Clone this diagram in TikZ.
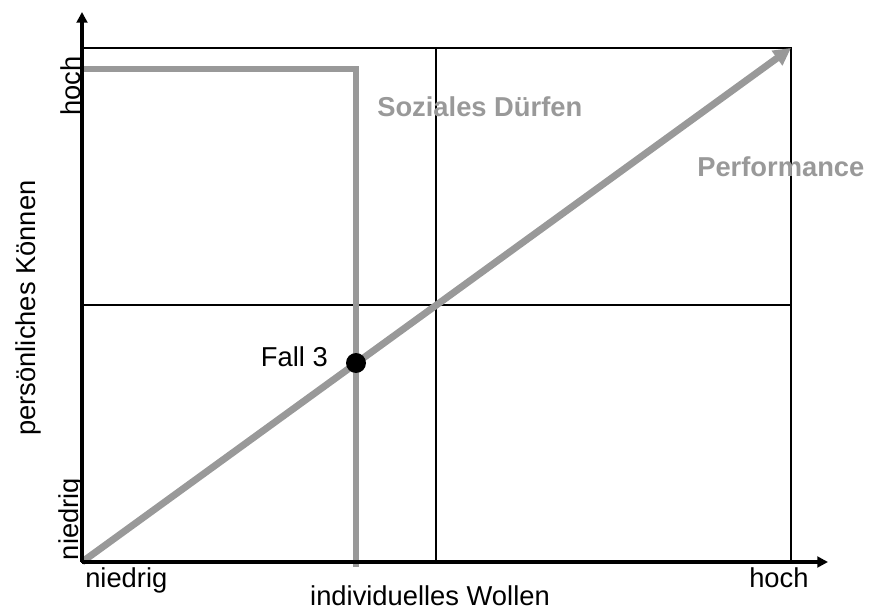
\documentclass[tikz,border=0pt]{standalone}
\usepackage{fontspec}
\setmainfont{Liberation Sans}
\usetikzlibrary{arrows.meta}
\definecolor{pathgray}{RGB}{153,153,153}
\tikzset{
  axis/.style     = {line width=2.5pt, -{Triangle[length=8pt, width=8pt]}},
  gridline/.style = {line width=1.2pt},
  graypath/.style = {draw=pathgray, line width=5.2pt},
  lbl/.style      = {font=\fontsize{20.5}{24}\selectfont, inner sep=0pt},
  glbl/.style     = {lbl, font=\fontsize{20.5}{24}\selectfont\bfseries,
                     text=pathgray},
  dot/.style      = {circle, fill=black, minimum size=15pt, inner sep=0pt},
}
\begin{document}
\begin{tikzpicture}[x=0.75pt, y=-0.75pt]
  \useasboundingbox (0,0) rectangle (869,610);
  \coordinate (O)    at (82,562);
  \coordinate (ytop) at (82,12);
  \coordinate (xend) at (828,562);
  \coordinate (TR)   at (791,48);
  \coordinate (midT) at (436,48);
  \coordinate (midB) at (436,562);
  \coordinate (midL) at (82,305);
  \coordinate (midR) at (791,305);
  \coordinate (sL)   at (80,69);
  \coordinate (sC)   at (356,69);
  \coordinate (sB)   at (356,567);

  % quadrants
  \draw[gridline] (O) rectangle (TR);
  \draw[gridline] (midT) -- (midB);
  \draw[gridline] (midL) -- (midR);

  % Soziales Duerfen
  \draw[graypath] (sL) -- (sC) -- (sB);
  % Performance
  \draw[graypath, -{Triangle[length=13pt, width=13pt]}] (O) -- (TR);

  % axes
  \draw[axis] (O) -- (ytop);
  \draw[axis] (O) -- (xend);

  \node[dot] (fall) at (356,363) {};
  \node[lbl, anchor=base east] (falllbl) at (328,366) {Fall 3};

  \node[glbl, anchor=base west] (soz)  at (377,117) {Soziales Dürfen};
  \node[glbl, anchor=base west] (perf) at (697,177) {Performance};

  \node[lbl, anchor=base west] (xlow)  at (85,587)  {niedrig};
  \node[lbl, anchor=base west] (xhigh) at (749,587) {hoch};
  \node[lbl, anchor=base] (xlbl) at (430,605) {individuelles Wollen};

  \node[lbl, rotate=90, anchor=base] (yhigh) at (80,86)  {hoch};
  \node[lbl, rotate=90, anchor=base] (ylow)  at (78,519) {niedrig};
  \node[lbl, rotate=90, anchor=base] (ylbl)  at (36,308) {persönliches Können};
\end{tikzpicture}
\end{document}
